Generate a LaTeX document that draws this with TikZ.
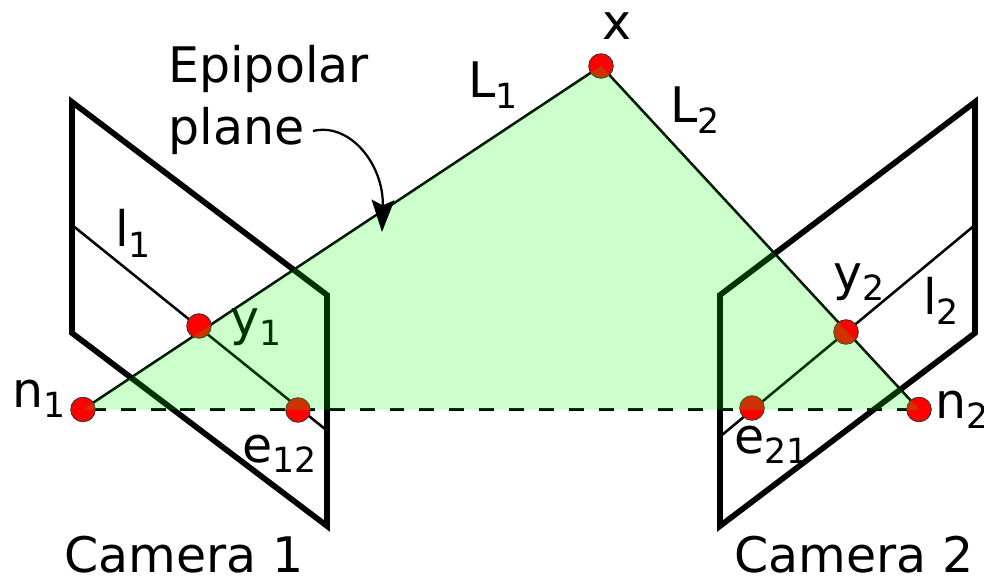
\documentclass[tikz,border=0pt]{standalone}
\usepackage{fontspec}
\usepackage{tkz-euclide}
\usetikzlibrary{arrows.meta}
\setmainfont{DejaVu Sans}
\newcommand{\labsub}[2]{#1\raisebox{-8pt}{\fontsize{26}{26}\selectfont #2}}
\tikzset{
  camera/.style={line width=4.3pt,line join=miter},
  ray/.style={line width=1.9pt},
  epidot/.style={circle,draw=black!80,line width=0.6pt,fill=red,minimum size=18.5pt,inner sep=0pt},
  lab/.style={anchor=base west,inner sep=0pt,font=\fontsize{36.75}{44}\selectfont},
}
\begin{document}
\begin{tikzpicture}[x=0.75pt,y=-0.75pt]
  \useasboundingbox (0,0) rectangle (984,577);
  % 1. Define the corners of both cameras
  \tkzDefPoint(72,102){A}
  \tkzDefPoint(327,295){B}
  \tkzDefPoint(327,526){C}
  \tkzDefPoint(72,333){D}
  \tkzDefPoint(975,102){E}
  \tkzDefPoint(720,295){F}
  \tkzDefPoint(720,526){G}
  \tkzDefPoint(975,333){H}
  % 2. The world point and the image points
  \tkzDefPoint(601,66){X}
  \tkzDefPoint(83,409.5){N1}
  \tkzDefPoint(919,409.5){N2}
  \tkzDefPoint(199,326){Y1}
  \tkzDefPoint(846,332){Y2}
  \tkzDefPoint(298,410){E1}
  \tkzDefPoint(752,408){E2}
  % ends of the epipolar lines
  \tkzDefPoint(72,225){P1}
  \tkzDefPoint(325,429){Q1}
  \tkzDefPoint(975,225){P2}
  \tkzDefPoint(722,435){Q2}
  % 3. Draw the cameras
  \draw[camera] (A) -- (B) -- (C) -- (D) -- cycle;
  \draw[camera] (E) -- (F) -- (G) -- (H) -- cycle;
  % epipolar lines and rays
  \draw[ray] (P1) -- (Q1);
  \draw[ray] (P2) -- (Q2);
  \draw[ray] (N1) -- (X) -- (N2);
  \draw[line width=2pt,dash pattern=on 11.2pt off 11.2pt,dash phase=16.5pt] (N1) -- (N2);
  % the points
  \node[epidot] (dotx) at (X) {};
  \node[epidot] (dotn1) at (N1) {};
  \node[epidot] (dotn2) at (N2) {};
  \node[epidot] (doty1) at (Y1) {};
  \node[epidot] (doty2) at (Y2) {};
  \node[epidot] (dote1) at (E1) {};
  \node[epidot] (dote2) at (E2) {};
  % labels
  \node[lab] (lx) at (602,40) {x};
  \node[lab] (ll1) at (468,98) {\labsub{L}{1}};
  \node[lab] (ll2) at (670,123) {\labsub{L}{2}};
  \node[lab] (li1) at (115,247) {\labsub{l}{1}};
  \node[lab] (li2) at (923,314) {\labsub{l}{2}};
  \node[lab] (ly1) at (230,335) {\labsub{y}{1}};
  \node[lab] (ly2) at (833,290) {\labsub{y}{2}};
  \node[lab] (ln1) at (12,407) {\labsub{n}{1}};
  \node[lab] (ln2) at (935,418) {\labsub{n}{2}};
  \node[lab] (le1) at (242,462) {\labsub{e}{12}};
  \node[lab] (le2) at (734,453) {\labsub{e}{21}};
  \node[lab] (cam1) at (64,572) {Camera 1};
  \node[lab] (cam2) at (734,572) {Camera 2};
  \node[lab] (epi) at (168,83) {Epipolar};
  \node[lab] (pla) at (168,145) {plane};
  % 4. The plane goes over all of it
  \fill[green,opacity=0.2] (N1) -- (X) -- (N2) -- cycle;
  \tkzDefPoint(313,131){S}
  \tkzDefPoint(382,232){T}
  \draw[line width=1.7pt,-{Stealth[length=24pt,width=17pt,inset=4pt]}] (S) .. controls (350,122) and (384,165) .. (T);
\end{tikzpicture}
\end{document}
